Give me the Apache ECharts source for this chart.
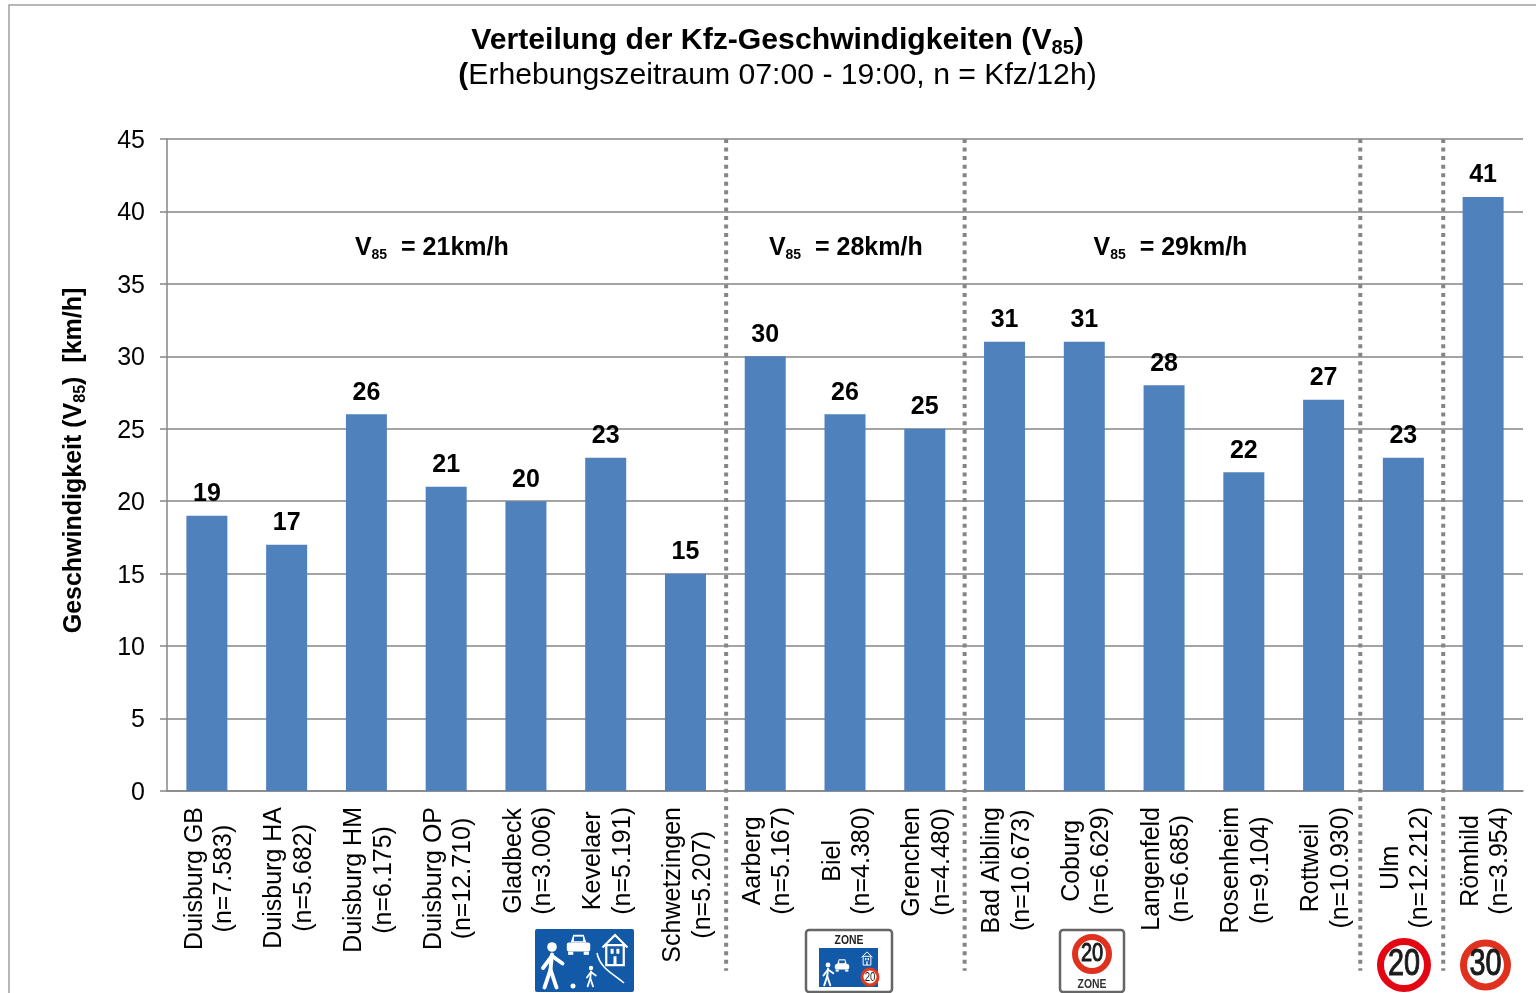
<!DOCTYPE html>
<html>
<head>
<meta charset="utf-8">
<title>Verteilung der Kfz-Geschwindigkeiten</title>
<script src="https://cdn.jsdelivr.net/npm/echarts@6/dist/echarts.min.js"></script>
<style>
html,body{margin:0;padding:0;background:#fff;}
#chart{width:1536px;height:993px;}
</style>
</head>
<body>
<div id="chart"></div>
<script>
var places = ['Duisburg GB','Duisburg HA','Duisburg HM','Duisburg OP','Gladbeck','Kevelaer','Schwetzingen','Aarberg','Biel','Grenchen','Bad Aibling','Coburg','Langenfeld','Rosenheim','Rottweil','Ulm','Römhild'];
var counts = ['7.583','5.682','6.175','12.710','3.006','5.191','5.207','5.167','4.380','4.480','10.673','6.629','6.685','9.104','10.930','12.212','3.954'];
var v85 = [19,17,26,21,20,23,15,30,26,25,31,31,28,22,27,23,41];
var yTicks = [0,5,10,15,20,25,30,35,40,45];
var groupSpeeds = ['21km/h','28km/h','29km/h'];

var font = '"Liberation Sans", Arial, sans-serif';
var grey = '#868686';

// group dividers and group captions, in category units
var dividers = [7.01, 10, 14.96, 16];
var captionPos = [3.32, 8.51, 12.58];

// little road signs under the axis, digits squeezed since no narrow font is around
function squeezed(cx,cy,str,size,fill,bold,heavy){
	return {
		type:'text',x:cx,y:cy,scaleX:0.8,
		style:{x:0,y:0,text:str,fill:fill,stroke:heavy?fill:null,lineWidth:heavy||0,font:(bold?'bold ':'')+size+'px '+font,align:'center',verticalAlign:'middle'}
	};
}
function circleSign(cx,cy,r,lw,ring,num,size){
	return [
		{type:'circle',shape:{cx:cx,cy:cy,r:r},style:{fill:'#fff',stroke:ring,lineWidth:lw}},
		squeezed(cx,cy+0.5,num,size,'#1a1a1a',false,size>20?1:0)
	];
}
function person(x,y,s){
	var st = {stroke:'#fff',lineWidth:2.6*s,fill:null,lineCap:'round'};
	return [
		{type:'circle',shape:{cx:x,cy:y,r:3.2*s},style:{fill:'#fff'}},
		{type:'polyline',shape:{points:[[x,y+5*s],[x-1*s,y+15*s],[x-5*s,y+27*s]]},style:st},
		{type:'polyline',shape:{points:[[x-1*s,y+15*s],[x+3*s,y+27*s]]},style:st},
		{type:'polyline',shape:{points:[[x-6*s,y+14*s],[x,y+6*s],[x+7*s,y+11*s]]},style:st}
	];
}
function car(x,y,s){
	return [
		{type:'rect',shape:{x:x-9*s,y:y+5*s,width:18*s,height:7*s,r:2},style:{fill:'#fff'}},
		{type:'polygon',shape:{points:[[x-6*s,y+5*s],[x-4*s,y-1*s],[x+4*s,y-1*s],[x+6*s,y+5*s]]},style:{fill:'#fff'}},
		{type:'rect',shape:{x:x-3.5*s,y:y+0.5*s,width:7*s,height:3.5*s},style:{fill:'#1259a7'}},
		{type:'rect',shape:{x:x-8*s,y:y+12*s,width:4*s,height:2.5*s},style:{fill:'#fff'}},
		{type:'rect',shape:{x:x+4*s,y:y+12*s,width:4*s,height:2.5*s},style:{fill:'#fff'}}
	];
}
function house(x,y,s){
	return [
		{type:'polyline',shape:{points:[[x-10*s,y+8*s],[x,y-2*s],[x+10*s,y+8*s]]},style:{stroke:'#fff',lineWidth:1.8*s,fill:null}},
		{type:'rect',shape:{x:x-7*s,y:y+6*s,width:14*s,height:16*s},style:{stroke:'#fff',lineWidth:1.8*s,fill:'#1259a7'}},
		{type:'rect',shape:{x:x-3.5*s,y:y+9*s,width:2.4*s,height:4*s},style:{fill:'#fff'}},
		{type:'rect',shape:{x:x+1.1*s,y:y+9*s,width:2.4*s,height:4*s},style:{fill:'#fff'}},
		{type:'rect',shape:{x:x-1.2*s,y:y+15*s,width:2.4*s,height:7*s},style:{fill:'#fff'}}
	];
}

var signs = [].concat(
	[{type:'rect',shape:{x:535,y:929,width:99,height:63,r:2},style:{fill:'#1259a7'}}],
	person(552,947,1.5),
	car(578.5,936,1.3),
	house(615,937.5,1.25),
	person(591,968,0.68),
	[
		{type:'circle',shape:{cx:573,cy:986,r:2.5},style:{fill:'#fff'}},
		{type:'bezierCurve',shape:{x1:597,y1:953,x2:624,y2:983,cpx1:600,cpy1:968,cpx2:612,cpy2:973},style:{stroke:'#fff',lineWidth:1.6,fill:null}}
	],
	[
		{type:'rect',shape:{x:806,y:930,width:86,height:62,r:3},style:{fill:'#fff',stroke:'#666',lineWidth:2.5}},
		squeezed(849,940,'ZONE',13,'#222',true),
		{type:'rect',shape:{x:819,y:948,width:59,height:39},style:{fill:'#1259a7'}}
	],
	person(828,965,0.75),
	car(842,960,0.8),
	house(867,953,0.55),
	circleSign(870,977,8,3,'#e03a1e','20',12),
	[{type:'rect',shape:{x:1060,y:930,width:64,height:62,r:3},style:{fill:'#fff',stroke:'#666',lineWidth:2.5}}],
	circleSign(1092,954,17,6,'#e0301e','20',25),
	[squeezed(1092,984,'ZONE',13,'#333',true)],
	circleSign(1404,965,23.5,7,'#e30613','20',36),
	circleSign(1485.5,965,22,7,'#e0301e','30',36),
	// outer frame of the slide
	[{type:'polyline',shape:{points:[[9,993],[9,5],[1536,5]]},style:{stroke:'#a0a0a0',lineWidth:1.5,fill:null}}]
);

var myChart = echarts.init(document.getElementById('chart'));
var option = {
	backgroundColor:'#fff',
	animation:false,
	textStyle:{fontFamily:font},
	title:{
		left:777.5,
		textAlign:'center',
		top:23,
		padding:0,
		itemGap:0,
		text:'{t|Verteilung der Kfz-Geschwindigkeiten (V}{ts|85}{t|)}\n{t|(}{r|Erhebungszeitraum 07:00 - 19:00, n = Kfz/12h)}',
		textStyle:{
			rich:{
				t:{fontFamily:font,fontWeight:'bold',fontSize:30.2,color:'#000',lineHeight:35},
				ts:{fontFamily:font,fontWeight:'bold',fontSize:20,color:'#000',lineHeight:28,verticalAlign:'bottom'},
				r:{fontFamily:font,fontWeight:'normal',fontSize:30.2,color:'#000',lineHeight:35}
			}
		}
	},
	grid:{left:167,right:13,top:139,height:652,containLabel:false},
	xAxis:[
		{
			type:'category',
			data:places,
			axisLine:{lineStyle:{color:grey,width:1.5}},
			axisTick:{length:7,lineStyle:{color:grey,width:1.5}},
			axisLabel:{
				interval:0,
				rotate:90,
				margin:16,
				padding:[5,0,0,0],
				formatter:function(v,i){
					return '{a|'+v+'}\n{a|(n='+counts[i]+')}';
				},
				rich:{a:{fontFamily:font,fontSize:25,color:'#000',lineHeight:29.5,align:'center'}}
			}
		},
		{type:'value',min:0,max:17,show:false}
	],
	yAxis:{
		type:'value',
		min:yTicks[0],
		max:yTicks[yTicks.length-1],
		interval:5,
		axisLine:{show:true,lineStyle:{color:grey,width:1.5}},
		axisTick:{show:true,length:7,lineStyle:{color:grey,width:1.5}},
		splitLine:{lineStyle:{color:grey,width:1.5}},
		axisLabel:{
			margin:22,
			formatter:function(v){return '{v|'+v+'}';},
			rich:{v:{fontFamily:font,fontSize:25,color:'#000',padding:[4,0,0,0]}}
		},
		name:'{n|Geschwindigkeit (V}{s|85}{n|)  [km/h]}',
		nameLocation:'middle',
		nameRotate:90,
		nameGap:78,
		nameTextStyle:{
			padding:[0,0,0,9],
			rich:{
				n:{fontFamily:font,fontWeight:'bold',fontSize:25,color:'#000',lineHeight:30},
				s:{fontFamily:font,fontWeight:'bold',fontSize:16,color:'#000',lineHeight:24,verticalAlign:'bottom'}
			}
		}
	},
	series:[
		{
			type:'bar',
			data:v85,
			barWidth:41,
			itemStyle:{color:'#4f81bd'},
			label:{show:true,position:'top',distance:9,fontFamily:font,fontWeight:'bold',fontSize:25,color:'#000'}
		},
		{
			type:'custom',
			xAxisIndex:1,
			coordinateSystem:'cartesian2d',
			clip:false,
			silent:true,
			z:5,
			data:dividers,
			renderItem:function(params,api){
				var a = api.coord([api.value(0),45]);
				var b = api.coord([api.value(0),-12.4]);
				return {
					type:'line',
					shape:{x1:a[0],y1:a[1],x2:b[0],y2:b[1]},
					style:{stroke:'#858585',lineWidth:4,lineDash:[4,4.55]}
				};
			}
		},
		{
			type:'custom',
			xAxisIndex:1,
			coordinateSystem:'cartesian2d',
			clip:false,
			silent:true,
			z:6,
			data:captionPos,
			renderItem:function(params,api){
				var p = api.coord([api.value(0),37.5]);
				return {
					type:'text',
					style:{
						x:p[0],y:p[1],
						align:'center',verticalAlign:'middle',
						text:'{n|V}{s|85}{n|  = '+groupSpeeds[params.dataIndex]+'}',
						rich:{
							n:{fontFamily:font,fontWeight:'bold',fontSize:25,fill:'#000',lineHeight:28},
							s:{fontFamily:font,fontWeight:'bold',fontSize:14,fill:'#000',lineHeight:20,verticalAlign:'bottom'}
						}
					}
				};
			}
		}
	],
	graphic:{elements:signs}
};
myChart.setOption(option,true);
</script>
</body>
</html>
